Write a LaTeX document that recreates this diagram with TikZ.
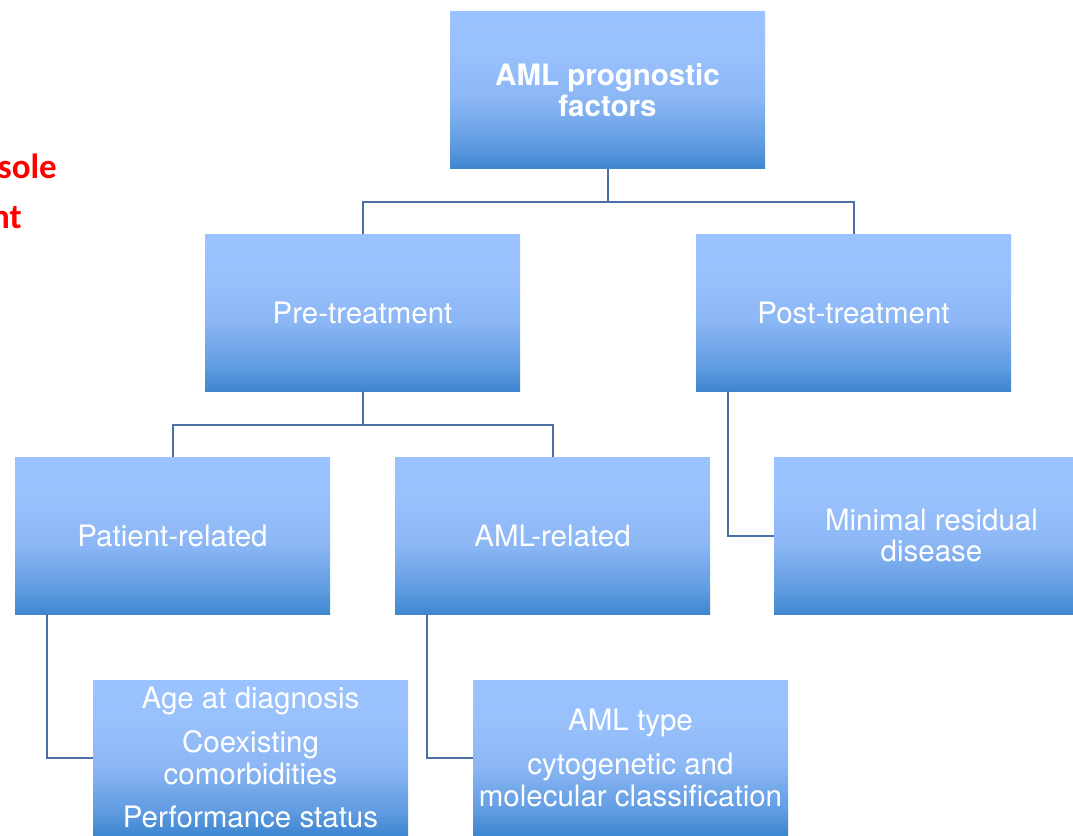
\documentclass[tikz,border=0pt]{standalone}
\usepackage{fontspec}
\setmainfont{TeX Gyre Heros}
\newfontfamily\redfont{Carlito}
\definecolor{sb}{HTML}{3E86D0}
\definecolor{sm1}{HTML}{5F9BE0}
\definecolor{sm2}{HTML}{8CB7F5}
\definecolor{sm3}{HTML}{99C1FC}
\definecolor{st}{HTML}{9AC2FE}
\definecolor{linec}{HTML}{4A6FA5}
\pgfdeclareverticalshading{boxshade}{100bp}{color(0bp)=(sb); color(25bp)=(sb); color(32.5bp)=(sm1); color(47.5bp)=(sm2); color(62.5bp)=(sm3); color(75bp)=(st); color(100bp)=(st)}
\tikzset{
  box/.style={shading=boxshade, draw=none, minimum width=315pt, minimum height=157pt,
    inner sep=0pt, outer sep=0pt, align=center, text=white,
    font=\fontsize{29.5}{31.5}\selectfont},
  conn/.style={draw=linec, line width=2pt},
  redtxt/.style={text=red, font=\redfont\bfseries\fontsize{35}{37}\selectfont, inner sep=0pt, anchor=base east}
}
\begin{document}
\begin{tikzpicture}[x=1pt,y=-1pt]
\useasboundingbox (0,0) rectangle (1073,835);
\clip (0,0) rectangle (1073,835);
\fill[white] (0,0) rectangle (1073,835);
% red partial text
\node[redtxt] (r1) at (57,178) {sole};
\node[redtxt] (r2) at (22,228) {nt};
% boxes
\node[box, font=\bfseries\fontsize{29.5}{31.5}\selectfont] (top) at (607.5,90) {AML prognostic\\factors};
\node[box] (pre) at (362.5,312.5) {Pre-treatment};
\node[box] (post) at (853.5,312.5) {Post-treatment};
\node[box] (pat) at (172.5,535.5) {Patient-related};
\node[box] (amlr) at (552.5,535.5) {AML-related};
\node[box] (mrd) at (931.5,535.5) {Minimal residual\\disease};
\node[box, minimum height=155pt] (age) at (250.5,757.5) {Age at diagnosis\\[13pt]Coexisting\\comorbidities\\[12pt]Performance status};
\node[box, minimum height=155pt] (type) at (630.5,757.5) {AML type\\[13pt]cytogenetic and\\molecular classification};
% connectors
\draw[conn] (top.south) -- ++(0,33) coordinate (h1) -| (pre.north);
\draw[conn] (h1) -| (post.north);
\draw[conn] (pre.south) -- ++(0,34) coordinate (h2) -| ([xshift=-190pt]pre.south |- pat.north);
\draw[conn] (h2) -| ([xshift=190pt]pre.south |- amlr.north);
\draw[conn] ([xshift=32pt]post.south west) |- (mrd.west);
\draw[conn] ([xshift=32pt]pat.south west) |- (age.west);
\draw[conn] ([xshift=32pt]amlr.south west) |- (type.west);
\end{tikzpicture}
\end{document}
